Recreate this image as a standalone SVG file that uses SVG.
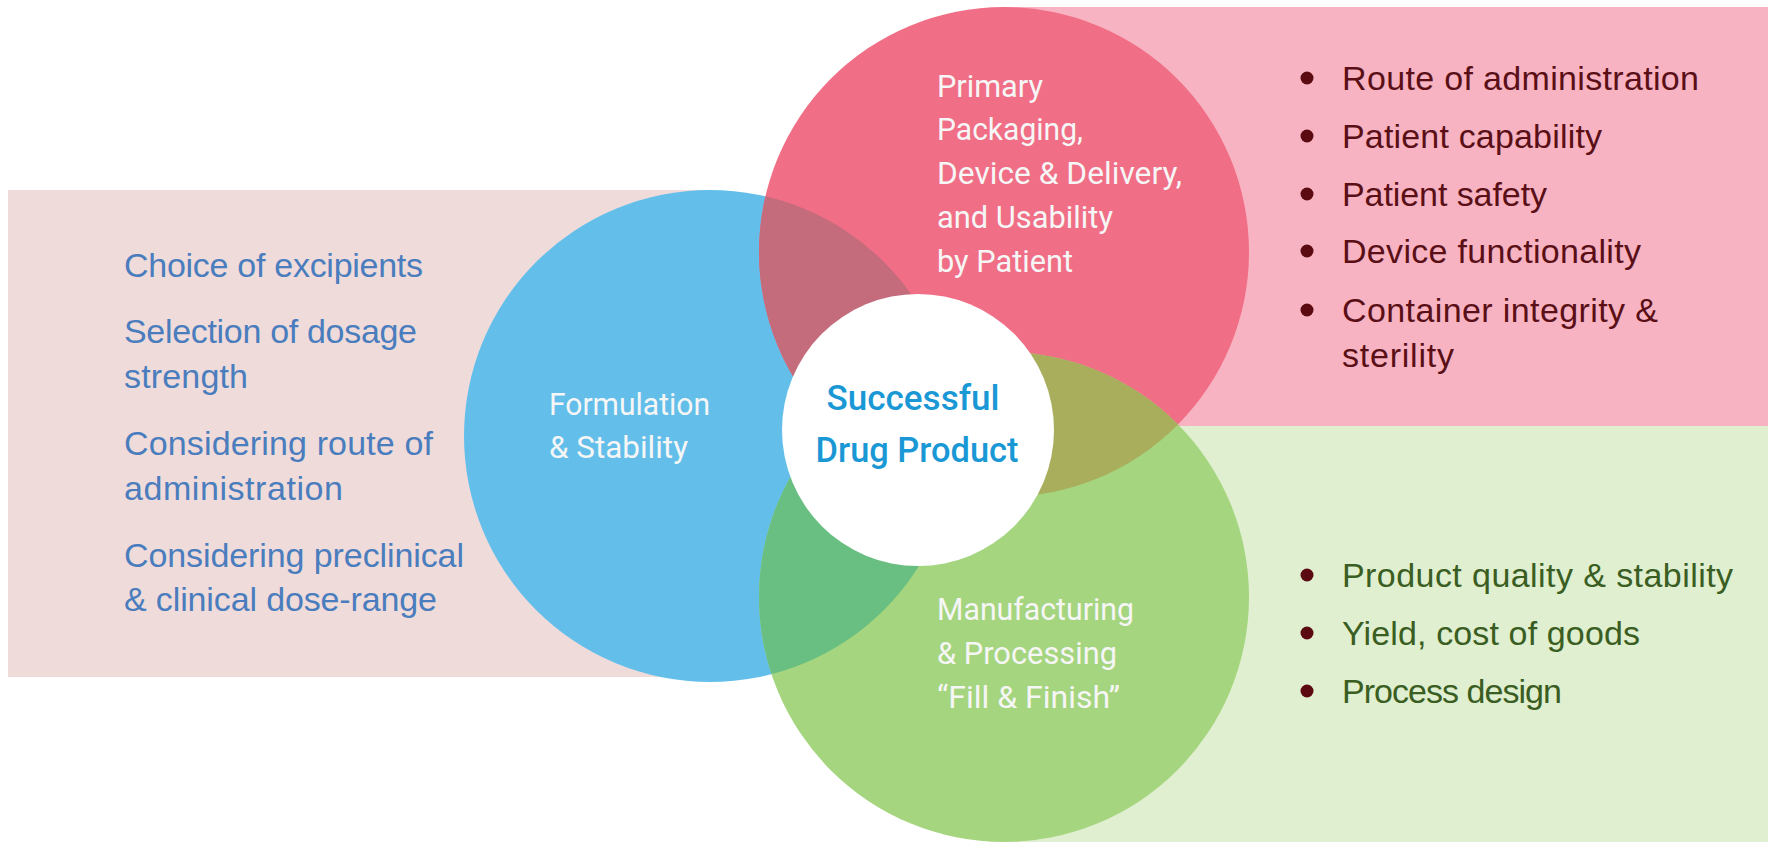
<svg xmlns="http://www.w3.org/2000/svg" width="1771" height="842" viewBox="0 0 1771 842">
  <style>
    .list { font-family: "Liberation Sans", Arial, sans-serif; font-size: 34px; }
    .left { fill: #4a7dbd; }
    .maroon { fill: #5a0f17; }
    .dgreen { fill: #3a5d22; }
    .bullet { fill: #5a0a10; }
    .clabel { font-family: Roboto, "Liberation Sans", sans-serif; font-size: 31px; font-weight: 400; fill: #f6f6f6; }
    .center { font-family: Roboto, "Liberation Sans", sans-serif; font-size: 35px; font-weight: 500; fill: #1a98d5; text-anchor: middle; }
  </style>
  <defs>
    <clipPath id="clipBlue"><circle cx="710" cy="436" r="246"/></clipPath>
    <clipPath id="clipRed"><circle cx="1004" cy="252" r="245"/></clipPath>
  </defs>
  <rect width="1771" height="842" fill="#ffffff"/>

  <g id="backgrounds">
    <rect x="8" y="190" width="702" height="487" fill="#f0dbdb"/>
    <rect x="1004" y="7" width="764" height="419" fill="#f7b3c1"/>
    <rect x="1004" y="426" width="764" height="416" fill="#dfefcf"/>
  </g>

  <g id="circles">
    <circle id="c-blue" cx="710" cy="436" r="246" fill="#63bfea"/>
    <circle id="c-red" cx="1004" cy="252" r="245" fill="#f06e86"/>
    <circle id="c-green" cx="1004" cy="597" r="245" fill="#a5d57f"/>
    <circle cx="1004" cy="252" r="245" fill="#c46c7b" clip-path="url(#clipBlue)"/>
    <circle cx="1004" cy="597" r="245" fill="#69bf81" clip-path="url(#clipBlue)"/>
    <circle cx="1004" cy="597" r="245" fill="#a9ae5c" clip-path="url(#clipRed)"/>
  </g>

  <g id="node-formulation">
    <text class="clabel" x="549" y="415" textLength="161" lengthAdjust="spacingAndGlyphs">Formulation</text>
    <text class="clabel" x="549" y="458" textLength="139" lengthAdjust="spacingAndGlyphs">&amp; Stability</text>
  </g>

  <g id="node-packaging">
    <text class="clabel" x="937" y="97" textLength="106" lengthAdjust="spacingAndGlyphs">Primary</text>
    <text class="clabel" x="937" y="140" textLength="146" lengthAdjust="spacingAndGlyphs">Packaging,</text>
    <text class="clabel" x="937" y="184" textLength="245" lengthAdjust="spacingAndGlyphs">Device &amp; Delivery,</text>
    <text class="clabel" x="937" y="228" textLength="176" lengthAdjust="spacingAndGlyphs">and Usability</text>
    <text class="clabel" x="937" y="272" textLength="136" lengthAdjust="spacingAndGlyphs">by Patient</text>
  </g>

  <g id="node-manufacturing">
    <text class="clabel" x="937" y="620" textLength="197" lengthAdjust="spacingAndGlyphs">Manufacturing</text>
    <text class="clabel" x="937" y="664" textLength="180" lengthAdjust="spacingAndGlyphs">&amp; Processing</text>
    <text class="clabel" x="937" y="708" textLength="183" lengthAdjust="spacingAndGlyphs">“Fill &amp; Finish”</text>
  </g>

  <g id="node-center">
    <circle cx="918" cy="430" r="136" fill="#ffffff"/>
    <text class="center" x="913" y="410" textLength="173" lengthAdjust="spacingAndGlyphs">Successful</text>
    <text class="center" x="917" y="462" textLength="203" lengthAdjust="spacingAndGlyphs">Drug Product</text>
  </g>

  <g id="list-formulation" class="list left">
    <text x="124" y="277" textLength="299" lengthAdjust="spacing">Choice of excipients</text>
    <text x="124" y="343" textLength="293" lengthAdjust="spacing">Selection of dosage</text>
    <text x="124" y="388" textLength="124" lengthAdjust="spacing">strength</text>
    <text x="124" y="455" textLength="309" lengthAdjust="spacing">Considering route of</text>
    <text x="124" y="500" textLength="219" lengthAdjust="spacing">administration</text>
    <text x="124" y="567" textLength="340" lengthAdjust="spacing">Considering preclinical</text>
    <text x="124" y="611" textLength="313" lengthAdjust="spacing">&amp; clinical dose-range</text>
  </g>

  <g id="list-packaging" class="list maroon">
    <circle class="bullet" cx="1307" cy="78" r="6.5"/>
    <circle class="bullet" cx="1307" cy="136" r="6.5"/>
    <circle class="bullet" cx="1307" cy="194" r="6.5"/>
    <circle class="bullet" cx="1307" cy="251" r="6.5"/>
    <circle class="bullet" cx="1307" cy="310" r="6.5"/>
    <text x="1342" y="90" textLength="357" lengthAdjust="spacing">Route of administration</text>
    <text x="1342" y="148" textLength="260" lengthAdjust="spacing">Patient capability</text>
    <text x="1342" y="206" textLength="205" lengthAdjust="spacing">Patient safety</text>
    <text x="1342" y="263" textLength="299" lengthAdjust="spacing">Device functionality</text>
    <text x="1342" y="322" textLength="316" lengthAdjust="spacing">Container integrity &amp;</text>
    <text x="1342" y="367" textLength="112" lengthAdjust="spacing">sterility</text>
  </g>

  <g id="list-manufacturing" class="list dgreen">
    <circle class="bullet" cx="1307" cy="575" r="6.5"/>
    <circle class="bullet" cx="1307" cy="633" r="6.5"/>
    <circle class="bullet" cx="1307" cy="691" r="6.5"/>
    <text x="1342" y="587" textLength="391" lengthAdjust="spacing">Product quality &amp; stability</text>
    <text x="1342" y="645" textLength="298" lengthAdjust="spacing">Yield, cost of goods</text>
    <text x="1342" y="703" textLength="220" lengthAdjust="spacing">Process design</text>
  </g>
</svg>
